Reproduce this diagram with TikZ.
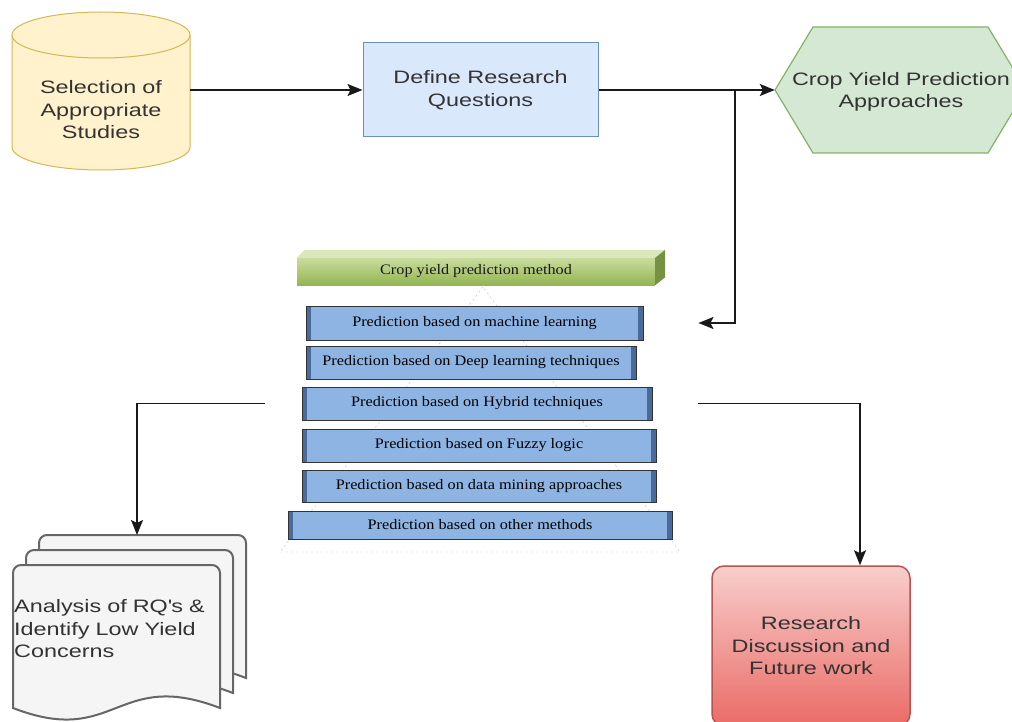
\documentclass[tikz,border=0pt]{standalone}
\usepackage{fontspec}
\setmainfont[FakeStretch=1.3]{Liberation Sans}
\newfontfamily\barfont[FakeStretch=1.12]{Liberation Serif}
\usetikzlibrary{arrows.meta,backgrounds}

\definecolor{cylfill}{HTML}{FFF2CC}
\definecolor{cyldraw}{HTML}{D6B656}
\definecolor{deffill}{HTML}{DAE8FC}
\definecolor{defdraw}{HTML}{6C8EBF}
\definecolor{hexfill}{HTML}{D5E8D4}
\definecolor{hexdraw}{HTML}{82B366}
\definecolor{docfill}{HTML}{F5F5F5}
\definecolor{docdraw}{HTML}{666666}
\definecolor{restop}{HTML}{F8CECC}
\definecolor{resbot}{HTML}{EA6B66}
\definecolor{resdraw}{HTML}{B85450}
\definecolor{barblue}{HTML}{8DB4E2}
\definecolor{barside}{HTML}{4A6A9A}
\definecolor{greentop}{HTML}{C9DC9E}
\definecolor{greenbot}{HTML}{93B552}
\definecolor{txtgray}{HTML}{333333}

\begin{document}
\begin{tikzpicture}[x=1pt,y=-1pt,>={Stealth[length=15pt,width=12pt,inset=3pt]},
	txt/.style={inner sep=0pt,align=center,text=txtgray,font=\fontsize{18}{22.5}\selectfont},
	flow/.style={->,line width=1.4pt,black!90},
	bar/.style={draw=black!80,fill=barblue,line width=0.9pt,inner sep=0pt,text=black,
		font=\barfont\fontsize{14.5}{16}\selectfont,
		path picture={\fill[barside] (path picture bounding box.south west) rectangle ([xshift=5pt]path picture bounding box.north west);
			\fill[barside] (path picture bounding box.south east) rectangle ([xshift=-5pt]path picture bounding box.north east);}}]
		 \useasboundingbox (0,0) rectangle (1012,722);

		 % top row
		 \node[txt,text width=178pt]                          (sel)  at (101,110)   {Selection of\\Appropriate\\Studies};
		 \node[txt,draw=defdraw,fill=deffill,line width=1pt,
		       minimum width=235,minimum height=94]             (def)  at (480.5,90)  {Define Research\\Questions};
		 \node[txt,text width=252pt]                          (hex)  at (901,92)    {Crop Yield Prediction\\Approaches};
		 \coordinate                                          (split) at (735,90);

		 % pyramid
		 \draw[dash pattern=on 2pt off 3pt,color=gray!55] (483,287) -- (280,552) -- (680,552) -- cycle;
		 \node[inner sep=0pt,minimum width=358,minimum height=27,top color=greentop,bottom color=greenbot,
		       font=\barfont\fontsize{14.5}{16}\selectfont,text=black!90] (meth) at (476,271.5) {Crop yield prediction method};
		 \fill[greentop!70!white] (meth.north west) -- ([shift={(8,-8)}]meth.north west) -- ([shift={(10,-8)}]meth.north east) -- (meth.north east) -- cycle;
		 \fill[greenbot!80!black] (meth.north east) -- ([shift={(10,-8)}]meth.north east) -- ([shift={(10,-8)}]meth.south east) -- (meth.south east) -- cycle;
		 \node[bar,minimum width=337,minimum height=34] (ml)    at (474.5,323) {Prediction based on machine learning};
		 \node[bar,minimum width=330,minimum height=33] (dl)    at (471,362.5) {Prediction based on Deep learning techniques};
		 \node[bar,minimum width=350,minimum height=33] (hyb)   at (477,403.5) {Prediction based on Hybrid techniques};
		 \node[bar,minimum width=354,minimum height=33] (fuzzy) at (479,445.5) {Prediction based on Fuzzy logic};
		 \node[bar,minimum width=354,minimum height=32] (dm)    at (479,486)   {Prediction based on data mining approaches};
		 \node[bar,minimum width=384,minimum height=28] (other) at (480,525)   {Prediction based on other methods};

		 % bottom row
		 \node[txt,align=left,text width=207pt,anchor=west]   (docs) at (14,629)    {Analysis of RQ{\XeTeXglyph\XeTeXcharglyph"27}s \&\\Identify Low Yield\\Concerns};
		 \coordinate                                          (docTop) at (137,535);
		 \node[txt,draw=resdraw,line width=1.5pt,rounded corners=12pt,top color=restop,bottom color=resbot,
		       minimum width=198,minimum height=160]            (res)  at (811,646)   {Research\\Discussion and\\Future work};

		 \begin{scope}[on background layer]
		 	\draw[cyldraw,fill=cylfill,line width=1pt] (12,35) -- (12,147) arc[start angle=180,end angle=360,x radius=89pt,y radius=23pt] -- (190,35);
		 	\draw[cyldraw,fill=cylfill,line width=1pt] (101,35) ellipse [x radius=89pt,y radius=23pt];
		 	\draw[hexdraw,fill=hexfill,line width=1.2pt] (775,90) -- (813,27) -- (988,27) -- (1026,90) -- (988,153) -- (813,153) -- cycle;
		 	\foreach \dx/\dy in {26/-30,13/-15,0/0}
		 		\draw[docdraw,fill=docfill,line width=2pt,shift={(\dx,\dy)}] (13,708) [rounded corners=8pt] -- (13,565) -- (220,565) [sharp corners] -- (220,708)
		 			.. controls (116,668) and (116,748) .. (13,708) -- cycle;
		 \end{scope}

		 \draw[flow] (sel.east |- def.west) -- (def.west);
		 \draw[flow] (def.east) -- (def.east -| hex.west);
		 \draw[flow,shorten >=55pt] (split) |- (ml.east);
		 \draw[flow,shorten <=37pt] (hyb.west) -| (docTop);
		 \draw[flow,shorten <=46pt] (hyb.east) -| ([xshift=49pt]res.north);
	\end{tikzpicture}
\end{document}
